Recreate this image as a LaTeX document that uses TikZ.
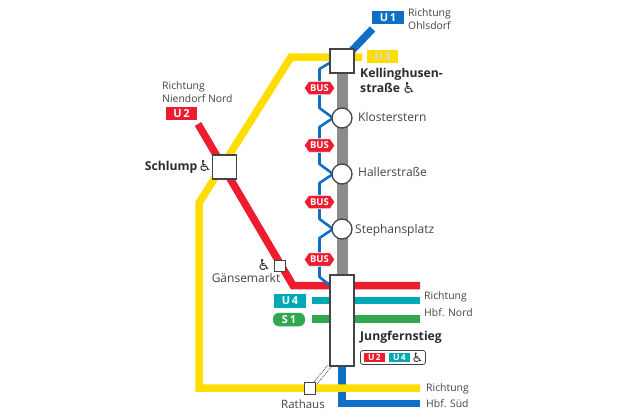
\documentclass[tikz,border=0pt]{standalone}
\usepackage{fontspec}
\setmainfont{Open Sans}
\newfontfamily\wheelfont{DejaVu Sans}
\usetikzlibrary{shapes.symbols,shapes.geometric,calc}
\definecolor{uyellow}{HTML}{FFDD00}
\definecolor{ured}{HTML}{ED1C2E}
\definecolor{ublue}{HTML}{0F6FC6}
\definecolor{uteal}{HTML}{00A9B5}
\definecolor{ugreen}{HTML}{2FA84F}
\definecolor{ugrey}{HTML}{8C8C8C}
\definecolor{utext}{HTML}{444444}
\definecolor{ubold}{HTML}{2B2B2B}
\definecolor{uframe}{HTML}{444444}
\newcommand{\wheel}{{\wheelfont\symbol{"267F}}}
\tikzset{
  route/.style={line width=7.5pt,line join=miter},
  busroute/.style={line width=2.6pt,ublue,line join=round},
  station/.style={draw=uframe,line width=1.3pt,fill=white,rectangle,inner sep=0pt},
  stop/.style={draw=uframe,line width=1.3pt,fill=white,circle,inner sep=0pt,minimum size=20pt},
  linetag/.style={rectangle,inner sep=0pt,minimum width=32pt,minimum height=13.5pt,font=\fontsize{11}{12}\selectfont\bfseries,text=white},
  smalltag/.style={rectangle,inner sep=0pt,minimum width=21pt,minimum height=9.5pt,font=\fontsize{8.5}{9}\selectfont\bfseries,text=white},
  bustag/.style={signal,signal to=west and east,signal pointer angle=110,fill=ured,draw=white,line width=.8pt,inner sep=0pt,minimum width=31pt,minimum height=13.5pt,font=\fontsize{9.5}{10}\selectfont\bfseries,text=white},
  lbl/.style={inner sep=0pt,anchor=base west,font=\fontsize{10.4}{11}\selectfont,text=utext},
  stoplbl/.style={inner sep=0pt,anchor=base west,font=\fontsize{12}{13}\selectfont,text=utext},
  boldlbl/.style={inner sep=0pt,anchor=base west,font=\fontsize{12.2}{14}\selectfont\bfseries,text=ubold},
  wh/.style={inner sep=0pt,font=\fontsize{15}{15}\selectfont,text=ubold},
  dots/.style={uframe,line width=.8pt,densely dotted},
}
\begin{document}
\begin{tikzpicture}[x=1pt,y=-1pt]
\useasboundingbox (0,0) rectangle (622,415);
\fill[white] (0,0) rectangle (622,415);
% coordinates
\coordinate (yE) at (362,57);
\coordinate (yA) at (291,57);
\coordinate (yB) at (199,203);
\coordinate (yC) at (199,388);
\coordinate (yD) at (420,388);
\coordinate (rA) at (198,124);
\coordinate (rB) at (293,285.5);
\coordinate (rC) at (420,285.5);
\coordinate (u1) at (372.5,29);
\coordinate (tA) at (312,300.5);
\coordinate (tB) at (420,300.5);
\coordinate (gA) at (312,319);
\coordinate (gB) at (420,319);
\coordinate (bA) at (342,403.5);
\coordinate (bB) at (420,403.5);
\coordinate (kellT) at (342,61);
\coordinate (schlT) at (224.5,167);
\coordinate (jungT) at (342,320.5);
\coordinate (gaenT) at (280,266);
\coordinate (rathT) at (310,388.5);
\coordinate (klosT) at (342,118);
\coordinate (hallT) at (342,174);
\coordinate (stepT) at (342,229);
% routes
\draw[route,ublue] (jungT) -- (bA) -- (bB);
\draw[route,ublue] (kellT) -- (u1);
\draw[route,uyellow] (yE) -- (yA) -- (yB) -- (yC) -- (yD);
\draw[route,ured] (rA) -- (rB) -- (rC);
\draw[route,uteal] (tA) -- (tB);
\draw[route,ugreen] (gA) -- (gB);
\draw[line width=11pt,ugrey] (kellT) -- (jungT);
\draw[busroute] (331,62) -- (319.5,69) -- (319.5,108) -- ($(klosT)+(-9,0)$) -- (319.5,127) -- (319.5,164) -- ($(hallT)+(-9,0)$) -- (319.5,183) -- (319.5,219) -- ($(stepT)+(-9,0)$) -- (319.5,238) -- (319.5,277) -- (332,287);
\draw[dots] (314,382) -- (328,365);
\draw[dots] (317,384) -- (332,366);
% stations
\node[station,minimum width=24pt,minimum height=24pt] (kell) at (kellT) {};
\node[station,minimum width=24pt,minimum height=24pt] (schl) at (schlT) {};
\node[station,minimum width=24pt,minimum height=91pt] (jung) at (jungT) {};
\node[station,minimum width=11.5pt,minimum height=11.5pt] (gaen) at (gaenT) {};
\node[station,minimum width=11.5pt,minimum height=11.5pt] (rath) at (rathT) {};
\node[stop] (klos) at (klosT) {};
\node[stop] (hall) at (hallT) {};
\node[stop] (step) at (stepT) {};
% tags
\node[linetag,fill=ublue] (tagu1) at (388,17.5) {U\,1};
\node[linetag,fill=uyellow,text=white!85!black,minimum width=31pt] (tagu3) at (382.5,56.5) {U\,3};
\node[linetag,fill=ured,minimum width=31pt] (tagu2) at (181.5,113.5) {U\,2};
\node[linetag,fill=uteal] (tagu4) at (290,301) {U\,4};
\node[linetag,fill=ugreen,rounded corners=6pt] (tags1) at (289,319.5) {S\,1};
\node[bustag] (bus1) at (319.5,88) {BUS};
\node[bustag] (bus2) at (319.5,145.5) {BUS};
\node[bustag] (bus3) at (319.5,202) {BUS};
\node[bustag] (bus4) at (319.5,259.5) {BUS};
% texts
\node[lbl] (t1) at (408,16.5) {Richtung};
\node[lbl] (t2) at (408,30) {Ohlsdorf};
\node[lbl] (t3) at (162,89) {Richtung};
\node[lbl] (t4) at (162,102.5) {Niendorf Nord};
\node[boldlbl] (t5) at (360,77.5) {Kellinghusen-};
\node[boldlbl] (t6) at (360,92) {straße};
\node[wh] (w1) at (409,88.5) {\wheel};
\node[stoplbl] (t7) at (358,121.5) {Klosterstern};
\node[stoplbl] (t8) at (358,176.5) {Hallerstraße};
\node[stoplbl] (t9) at (355,233.5) {Stephansplatz};
\node[boldlbl,anchor=base east] (t10) at (197.5,170.5) {Schlump};
\node[wh] (w2) at (205,166.5) {\wheel};
\node[wh] (w3) at (264,265) {\wheel};
\node[stoplbl,anchor=base] (t11) at (246,282.5) {Gänsemarkt};
\node[stoplbl,anchor=base,font=\fontsize{11.5}{13}\selectfont] (t12) at (303,408) {Rathaus};
\node[lbl] (t13) at (424,299.5) {Richtung};
\node[lbl] (t14) at (424,316) {Hbf. Nord};
\node[lbl] (t15) at (426,391) {Richtung};
\node[lbl] (t16) at (426,407.5) {Hbf. Süd};
\node[boldlbl] (t17) at (360,340.5) {Jungfernstieg};
% legend
\node[draw=uframe,line width=.8pt,rounded corners=2.5pt,fill=white,minimum width=65pt,minimum height=14pt,inner sep=0pt] (leg) at (393,357.5) {};
\node[smalltag,fill=ured] (lu2) at (374.5,357.5) {U\,2};
\node[smalltag,fill=uteal] (lu4) at (399.5,357.5) {U\,4};
\node[wh,font=\fontsize{13}{13}\selectfont] (w4) at (417.5,357.5) {\wheel};
\end{tikzpicture}
\end{document}
